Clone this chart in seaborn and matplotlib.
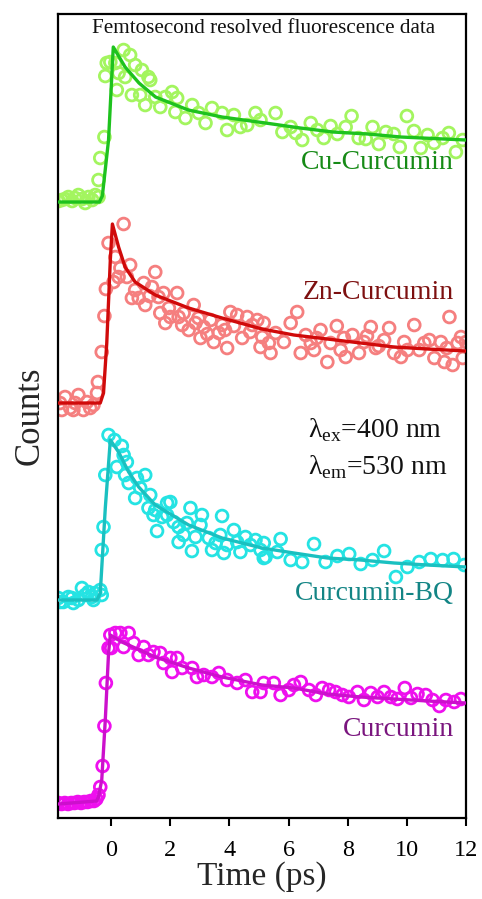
import numpy as np
import pandas as pd
import matplotlib
matplotlib.use("Agg")
import matplotlib.pyplot as plt
import seaborn as sns

# ---------------- data (time in ps, counts in a.u., traces stacked) ----------------
cu_t = [-1.78, -1.67, -1.56, -1.45, -1.32, -1.22, -1.11, -0.98, -0.88, -0.77, -0.64, -0.54, -0.43,
        -0.43, -0.37, -0.23, -0.20, -0.15, -0.03, 0.14, 0.19, 0.25, 0.42, 0.64, 0.47, 0.81, 1.04, 1.26,
        1.32, 0.70, 0.98, 1.15, 1.49, 1.66, 1.83, 2.06, 2.23, 2.17, 2.51, 2.74, 2.96, 3.19, 3.41, 3.75,
        3.92, 4.15, 4.37, 4.60, 4.88, 5.05, 5.56, 5.79, 6.07, 6.24, 6.46, 6.75, 6.97, 7.19, 7.42, 7.65,
        7.93, 8.13, 8.37, 8.61, 8.84, 9.05, 9.29, 9.56, 9.76, 10.00, 10.24, 10.47, 10.70, 10.92, 11.21,
        11.42, 11.66, 11.89]
cu_c = [617, 618, 619, 621, 617, 620, 623, 619, 615, 621, 618, 623, 621,
        638, 660, 681, 742, 755, 756, 755, 728, 745, 768, 763, 741, 753, 748, 741,
        738, 723, 723, 713, 721, 711, 721, 726, 720, 706, 700, 713, 705, 695, 710, 705,
        688, 703, 691, 693, 705, 698, 705, 686, 691, 685, 678, 695, 688, 680, 692, 684,
        691, 702, 680, 679, 691, 674, 686, 684, 671, 702, 687, 670, 683, 675, 680,
        685, 666, 678]
cu_fit_t = [-1.8, -0.4, -0.3, -0.09, 0.07, 0.47, 0.94, 1.5, 2.61, 3.75, 5.22, 6.4, 7.5, 8.68, 9.8, 12.0]
cu_fit_c = [616, 616, 622, 678, 771, 751, 735, 721, 708, 701, 695, 690, 686, 684, 681, 678]

zn_t = [-1.73, -1.67, -1.56, -1.39, -1.28, -1.22, -1.11, -0.94, -0.82, -0.71, -0.60, -0.48, -0.45,
        -0.32, -0.23, -0.18, -0.09, 0.42, 0.14, 0.31, 0.64, 0.25, 0.08, 0.53, 1.49, 1.10, 0.81, 0.70,
        0.93, 1.15, 1.38, 1.60, 1.77, 1.66, 1.83, 2.00, 2.23, 2.28, 2.45, 2.62, 2.79, 2.85, 3.02, 3.13,
        3.36, 3.47, 3.64, 3.75, 3.92, 4.03, 4.26, 4.43, 4.60, 4.77, 4.94, 5.11, 5.05,
        5.16, 5.33, 5.56, 5.84, 6.07, 6.29, 6.41, 6.58, 6.75, 6.86, 7.08, 7.31, 7.42, 7.63, 7.76, 7.93,
        8.16, 8.38, 8.55, 8.78, 8.95, 9.23, 9.40, 9.57, 9.80, 9.91, 10.25, 10.42, 10.59, 10.76, 10.93,
        11.15, 11.27, 11.44, 11.55, 11.72, 11.83, 11.89, 12.0, 5.39, 7.87, 10.02,
        1.30, 1.95, 2.40, 2.95, 3.25, 3.85, 4.15, 4.70, 6.95, 8.65, 9.05, 11.35]
zn_c = [415, 408, 421, 410, 408, 415, 423, 408, 416, 410, 413, 425, 436,
        466, 502, 529, 575, 594, 561, 550, 553, 541, 536, 541, 546, 535, 528, 520,
        520, 513, 531, 521, 525, 505, 495, 501, 525, 501, 505, 488, 513, 495, 480, 491,
        498, 476, 485, 493, 470, 506, 503, 480, 501, 493, 498, 481, 471,
        495, 475, 485, 476, 495, 506, 465, 483, 475, 468, 488, 456, 475, 492, 468, 461,
        483, 465, 476, 491, 470, 478, 490, 465, 461, 476, 493, 468, 475, 478, 460,
        476, 456, 501, 453, 475, 481, 460, 476, 465, 480, 468,
        522, 510, 493, 500, 484, 488, 492, 486, 480, 482, 472, 470]
zn_fit_t = [-1.8, -0.37, -0.26, -0.15, -0.03, 0.04, 0.25, 0.47, 0.81, 1.49, 2.62, 3.75, 5.1, 6.18,
            7.31, 8.44, 9.57, 10.7, 12.0]
zn_fit_c = [415, 415, 425, 475, 558, 594, 571, 551, 536, 523, 510, 500, 489, 483,
            479, 475, 471, 469, 467]

bq_t = [-1.79, -1.73, -1.62, -1.45, -1.33, -1.28, -1.11, -0.99, -0.88, -0.77, -0.65, -0.60, -0.54,
        -0.37, -0.32, -0.32, -0.26, -0.20, -0.09, 0.11, 0.36, 0.19, 0.42, 0.53, 0.47, 0.59, 0.87, 1.15,
        0.98, 0.81, 1.32, 1.26, 1.43, 1.49, 1.55, 1.72, 1.89, 2.00, 1.89, 2.11, 2.28, 2.28, 2.45, 2.56,
        2.68, 2.73, 2.85, 3.02, 3.07, 3.30, 3.41, 3.53, 3.69, 3.75, 3.81, 3.92, 4.15, 4.26, 4.37, 4.54,
        4.71, 4.88, 5.05, 5.16, 5.16, 5.22, 5.62, 5.73, 6.07, 6.46, 6.86, 7.25, 7.65, 8.05, 8.44, 8.84,
        9.23, 9.63, 10.02, 10.42, 10.81, 11.21, 11.58, 11.94]
bq_c = [220, 216, 216, 221, 220, 215, 218, 230, 223, 226, 221, 218, 225,
        228, 223, 268, 291, 343, 383, 378, 372, 351, 363, 356, 343, 335, 340, 343,
        330, 320, 323, 310, 303, 308, 287, 301, 315, 316, 303, 296, 291, 276, 283, 295,
        310, 267, 281, 293, 303, 280, 268, 275, 283, 302, 265, 273, 288, 276, 266, 281,
        273, 278, 268, 260, 275, 261, 266, 279, 258, 256, 274, 256, 262, 264, 254, 258,
        267, 241, 251, 256, 259, 258, 259, 253]
bq_fit_t = [-1.8, -0.48, -0.37, -0.2, -0.03, 0.25, 0.59, 0.93, 1.49, 2.62, 3.75, 5.1, 6.18, 7.31,
            8.44, 9.57, 10.7, 12.0]
bq_fit_c = [218, 218, 225, 310, 378, 366, 346, 331, 313, 293, 280, 270, 265, 260,
            258, 255, 253, 251]

cur_t = [-1.79, -1.68, -1.57, -1.46, -1.35, -1.24, -1.13, -1.02, -0.91, -0.80, -0.69, -0.58, -0.50,
         -0.43, -0.37, -0.29, -0.23, -0.18, -0.09, 0.00, -0.03, 0.14, 0.31, 0.59, 0.42, 0.76, 0.93,
         1.10, 1.26, 1.43, 1.66, 1.77, 2.00, 2.06, 2.23, 2.40, 2.74, 2.90, 3.13, 3.41, 3.64, 3.92,
         4.26, 4.54, 4.77, 5.05, 5.16, 5.50, 5.73, 6.01, 6.18, 6.41, 6.69, 6.92, 7.14, 7.37, 7.59,
         7.82, 8.04, 8.33, 8.55, 8.78, 9.01, 9.23, 9.46, 9.68, 9.93, 10.14, 10.36, 10.64, 10.87,
         11.10, 11.32, 11.60, 11.83]
cur_c = [15, 14, 15, 14, 15, 15, 16, 15, 16, 16, 17, 17, 19,
         23, 31, 52, 92, 135, 170, 170, 183, 185, 185, 185, 171, 175, 163,
         171, 163, 166, 165, 155, 160, 146, 160, 150, 150, 141, 143, 141, 145, 138,
         135, 138, 126, 126, 135, 135, 123, 128, 133, 136, 128, 123, 130, 128, 126,
         123, 121, 126, 118, 125, 121, 126, 121, 119, 130, 120, 124, 123, 118,
         112, 118, 116, 119]
cur_fit_t = [-1.8, -0.5, -0.43, -0.32, -0.2, -0.09, -0.03, 0.36, 1.49, 2.62, 3.75, 5.1, 6.18, 7.31,
             8.44, 9.57, 10.7, 12.0]
cur_fit_c = [14, 17, 21, 38, 98, 165, 183, 176, 161, 150, 141, 133, 130, 124,
             121, 119, 117, 115]

names = ["Cu-Curcumin", "Zn-Curcumin", "Curcumin-BQ", "Curcumin"]
x_ticks = [0, 2, 4, 6, 8, 10, 12]

# ---------------- style ----------------
sns.set_style("white")
plt.rcParams["font.family"] = ["Liberation Serif", "DejaVu Serif"]
plt.rcParams["mathtext.fontset"] = "custom"
plt.rcParams["mathtext.rm"] = "Liberation Serif"

series = {
    "Cu-Curcumin": (cu_t, cu_c, cu_fit_t, cu_fit_c),
    "Zn-Curcumin": (zn_t, zn_c, zn_fit_t, zn_fit_c),
    "Curcumin-BQ": (bq_t, bq_c, bq_fit_t, bq_fit_c),
    "Curcumin": (cur_t, cur_c, cur_fit_t, cur_fit_c),
}
pt_colors = {"Cu-Curcumin": "#a3f55f", "Zn-Curcumin": "#f57f7f",
             "Curcumin-BQ": "#25e3e3", "Curcumin": "#ee10ee"}
ln_colors = {"Cu-Curcumin": "#1ec21e", "Zn-Curcumin": "#d00a0a",
             "Curcumin-BQ": "#1ac0c0", "Curcumin": "#cc10cc"}
lab_colors = {"Cu-Curcumin": "#168a16", "Zn-Curcumin": "#7d1010",
              "Curcumin-BQ": "#138585", "Curcumin": "#7a157e"}
lab_pos = {"Cu-Curcumin": (11.6, 656), "Zn-Curcumin": (11.6, 526),
           "Curcumin-BQ": (11.6, 225), "Curcumin": (11.6, 89)}

pts = pd.concat([pd.DataFrame({"t": v[0], "c": v[1], "s": k}) for k, v in series.items()])
fits = pd.concat([pd.DataFrame({"t": v[2], "c": v[3], "s": k}) for k, v in series.items()])

fig = plt.figure(figsize=(4.82, 8.99), dpi=100)
ax = fig.add_axes([0.1203, 0.0901, 0.8465, 0.8943])

for k in names:
    sns.scatterplot(data=pts[pts.s == k], x="t", y="c", ax=ax, marker="o", s=72,
                    facecolor="none", edgecolor=pt_colors[k], linewidth=2.0, legend=False, zorder=2)
for k in names:
    sns.lineplot(data=fits[fits.s == k], x="t", y="c", ax=ax, color=ln_colors[k],
                 linewidth=2.4, legend=False, sort=False, estimator=None, zorder=3)
    x, y = lab_pos[k]
    ax.text(x, y, k, color=lab_colors[k], fontsize=20, ha="right", va="center")

ax.text(5.17, 790, "Femtosecond resolved fluorescence data", fontsize=15.2,
        ha="center", va="center", color="#111111")
ax.text(6.64, 388, "λ$_{\\mathrm{ex}}$=400 nm", fontsize=20, ha="left", va="center", color="#111111")
ax.text(6.64, 351, "λ$_{\\mathrm{em}}$=530 nm", fontsize=20, ha="left", va="center", color="#111111")

ax.set_xlim(-1.8, 12.0)
ax.set_ylim(0, 804)
ax.set_xticks(x_ticks)
ax.set_xticklabels([str(v) for v in x_ticks], fontsize=17.5)
ax.set_yticks([])
ax.tick_params(axis="x", direction="out", length=6, width=1.5, pad=10, bottom=True, colors="black")
for sp in ax.spines.values():
    sp.set_visible(True)
    sp.set_color("black")
    sp.set_linewidth(1.6)
ax.set_xlabel("Time (ps)", fontsize=24, labelpad=0)
ax.set_ylabel("Counts", fontsize=25, labelpad=8)

fig.savefig("out.png", dpi=100)
